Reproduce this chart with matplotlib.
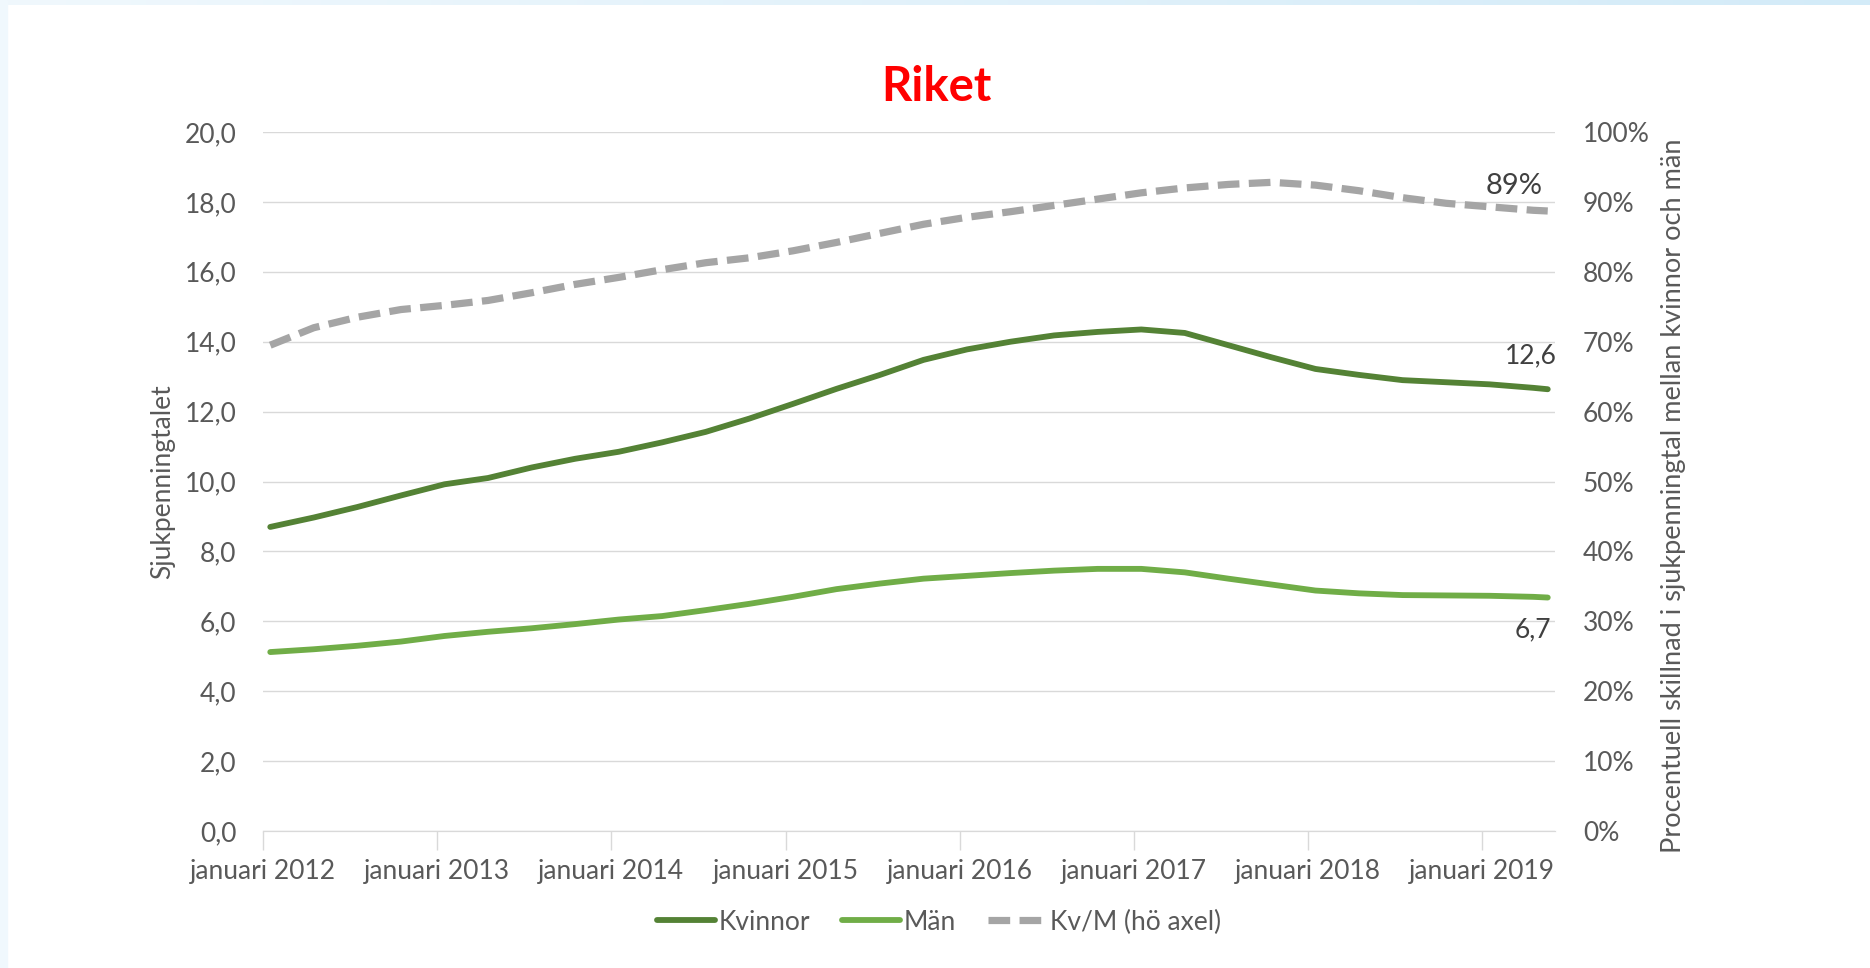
#!/usr/bin/env python3
# plot.py - Riket: sjukpenningtal kvinnor / män och Kv/M
import numpy as np
import matplotlib.pyplot as plt
from matplotlib.patches import Rectangle
from matplotlib.colors import LinearSegmentedColormap

plt.rcParams['font.family'] = ['Lato', 'DejaVu Sans']

# month offsets from januari 2012 (values read about once a quarter)
months = list(range(0, 88, 3)) + [88]
kvinnor = [8.70, 8.97, 9.27, 9.60, 9.92, 10.10, 10.40, 10.65, 10.85, 11.12,
           11.42, 11.80, 12.22, 12.65, 13.05, 13.48, 13.78, 14.00, 14.18, 14.28,
           14.35, 14.25, 13.90, 13.55, 13.22, 13.05, 12.90, 12.84, 12.78, 12.68,
           12.64]
man = [5.12, 5.20, 5.30, 5.42, 5.58, 5.70, 5.80, 5.92, 6.05, 6.15,
       6.32, 6.50, 6.70, 6.92, 7.08, 7.22, 7.30, 7.38, 7.45, 7.50,
       7.50, 7.40, 7.22, 7.05, 6.88, 6.80, 6.75, 6.74, 6.73, 6.70,
       6.68]
kv_m = [69.5, 72.0, 73.5, 74.6, 75.2, 75.9, 77.0, 78.2, 79.2, 80.3,
        81.3, 82.0, 83.0, 84.2, 85.5, 86.8, 87.8, 88.6, 89.5, 90.4,
        91.3, 92.0, 92.5, 92.8, 92.4, 91.6, 90.6, 89.8, 89.3, 88.8,
        88.7]
year_labels = ["januari 2012", "januari 2013", "januari 2014", "januari 2015",
               "januari 2016", "januari 2017", "januari 2018", "januari 2019"]
left_ticks = [0, 2, 4, 6, 8, 10, 12, 14, 16, 18, 20]
right_ticks = [0, 10, 20, 30, 40, 50, 60, 70, 80, 90, 100]
end_labels = ["12,6", "6,7", "89%"]

W, H = 1870, 968
GRID = "#D9D9D9"
TXT = "#595959"
FS = 19

fig = plt.figure(figsize=(W / 100, H / 100), dpi=100)

# light blue frame strips of the screenshot
grad = np.linspace(0, 1, 256).reshape(1, -1)
gax = fig.add_axes([0, 1 - 5 / H, 1, 5 / H])
gax.imshow(grad, aspect="auto", cmap=LinearSegmentedColormap.from_list("s", ["#f0f8fd", "#d3ebf8"]))
gax.axis("off")
fig.patches.append(Rectangle((0, 0), 7 / W, 1, transform=fig.transFigure, color="#f0f8fd", zorder=0))

ax = fig.add_axes([263 / W, 1 - 831 / H, (1555 - 263) / W, (831 - 132) / H])
ax2 = ax.twinx()

l1, = ax.plot(months, kvinnor, color="#548235", lw=4.2, solid_capstyle="round", label="Kvinnor")
l2, = ax.plot(months, man, color="#70AD47", lw=4.2, solid_capstyle="round", label="Män")
l3, = ax2.plot(months, kv_m, color="#A5A5A5", lw=5.2, dashes=(3.0, 1.3), label="Kv/M (hö axel)")

ax.set_xlim(-0.5, 88.5)
ax.set_ylim(0, 20)
ax2.set_ylim(0, 100)

ax.set_xticks([-0.5 + 12 * i for i in range(len(year_labels))])
ax.set_xticklabels(year_labels)
ax.tick_params(axis="x", length=14, width=1, color=GRID, pad=6, labelsize=FS, labelcolor=TXT)

ax.set_yticks(left_ticks)
ax.set_yticklabels([f"{v:.1f}".replace(".", ",") for v in left_ticks])
ax.tick_params(axis="y", length=0, pad=19, labelsize=FS, labelcolor=TXT)
ax2.set_yticks(right_ticks)
ax2.set_yticklabels([f"{v}%" for v in right_ticks])
ax2.tick_params(axis="y", length=0, pad=20, labelsize=FS, labelcolor=TXT)

ax.yaxis.grid(True, color=GRID, lw=1)
ax.set_axisbelow(True)
for a in (ax, ax2):
    for s in ("top", "left", "right"):
        a.spines[s].set_visible(False)
    a.spines["bottom"].set_color(GRID)

ax.set_ylabel("Sjukpenningtalet", fontsize=FS, color=TXT)
ax.yaxis.set_label_coords(-0.068, 0.5)
ax2.set_ylabel("Procentuell skillnad i sjukpenningtal mellan kvinnor och män", fontsize=19.5, color=TXT)
ax2.yaxis.set_label_coords(1.082, 0.48)

# end-of-series data labels
ax.annotate(end_labels[0], (months[-1], kvinnor[-1]), xytext=(-12, 24), textcoords="offset points",
            ha="center", va="center", fontsize=FS, color="#404040")
ax.annotate(end_labels[1], (months[-1], man[-1]), xytext=(-11, -23), textcoords="offset points",
            ha="center", va="center", fontsize=FS, color="#404040")
ax2.annotate(end_labels[2], (months[-1], kv_m[-1]), xytext=(-24, 18), textcoords="offset points",
             ha="center", va="center", fontsize=21, color="#404040")

fig.text(936 / W, 1 - 87 / H, "Riket", color="#FF0000", fontsize=34, fontweight="bold",
         ha="center", va="center")

fig.legend(handles=[l1, l2, l3], loc="center", bbox_to_anchor=(939 / W, 1 - 922 / H), ncol=3,
           frameon=False, fontsize=FS, labelcolor=TXT, handlelength=2.2, handletextpad=0.15,
           columnspacing=1.2)

fig.savefig("out.png", dpi=100)
